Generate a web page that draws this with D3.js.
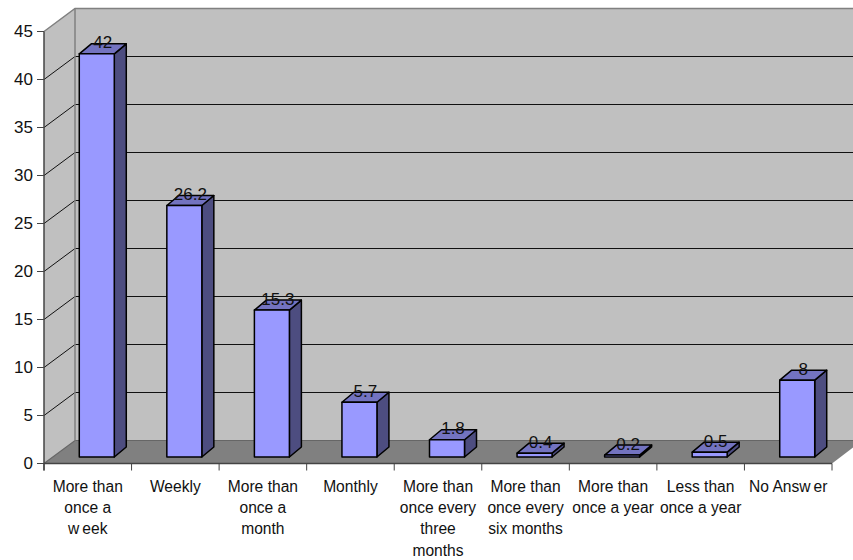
<!DOCTYPE html>
<html>
<head>
<meta charset="utf-8">
<script src="https://cdn.jsdelivr.net/npm/d3@7"></script>
<style>
  html, body { margin: 0; padding: 0; background: #fff; }
  svg { display: block; }
  text { font-family: "Liberation Sans", Arial, sans-serif; fill: #111; }
</style>
</head>
<body>
<svg id="chart" width="853" height="560"></svg>
<script>
const categories = [
  ["More than", "once a", "week"],
  ["Weekly"],
  ["More than", "once a", "month"],
  ["Monthly"],
  ["More than", "once every", "three", "months"],
  ["More than", "once every", "six months"],
  ["More than", "once a year"],
  ["Less than", "once a year"],
  ["No Answer"]
];
const values = [42, 26.2, 15.3, 5.7, 1.8, 0.4, 0.2, 0.5, 8];
const valueLabels = ["42", "26.2", "15.3", "5.7", "1.8", "0.4", "0.2", "0.5", "8"];
const yTicks = [0, 5, 10, 15, 20, 25, 30, 35, 40, 45];

const chartWidth = 853, fontSize = 15.6, numberSize = 17, lineStep = 21.4;
const plotLeft = 44, plotRight = 832, plotTop = 31.5, plotBottom = 463.5;
// Oblique offset of the back wall, and of the bars' front faces and their depth.
const wallDx = 31, wallDy = -23;
const barInsetX = 9, barInsetY = -6.5, barDepthX = 12, barDepthY = -10, barWidth = 35;

const svg = d3.select("#chart");
const x = d3.scaleBand().domain(d3.range(values.length)).range([plotLeft, plotRight]);
const y = d3.scaleLinear().domain([0, 45]).range([plotBottom, plotTop]);
const poly = pts => pts.map(p => p.join(",")).join(" ");

// Walls and floor of the 3D box
svg.append("polygon").attr("fill", "#c0c0c0")
  .attr("points", poly([[plotLeft, y(45)], [plotLeft + wallDx, y(45) + wallDy], [chartWidth, y(45) + wallDy], [chartWidth, y(0) + wallDy], [plotLeft + wallDx, y(0) + wallDy], [plotLeft, y(0)]]));
svg.append("polygon").attr("fill", "#808080")
  .attr("points", poly([[plotLeft, y(0)], [plotLeft + wallDx, y(0) + wallDy], [chartWidth, y(0) + wallDy], [chartWidth, y(0) + wallDy + 7], [plotRight, y(0)]]));

// Gridlines run up the side wall and across the back wall
const grid = svg.append("g").attr("fill", "none");
yTicks.slice(1, -1).forEach(t => {
  grid.append("polyline").attr("stroke", "#111").attr("stroke-width", 1)
    .attr("points", poly([[plotLeft, y(t)], [plotLeft + wallDx, y(t) + wallDy], [chartWidth, y(t) + wallDy]]));
});
grid.append("polyline").attr("stroke", "#666").attr("stroke-width", 1.2)
  .attr("points", poly([[plotLeft, y(0)], [plotLeft + wallDx, y(0) + wallDy], [chartWidth, y(0) + wallDy]]));

// Pale edges of the box
svg.append("polyline").attr("fill", "none").attr("stroke", "#808080").attr("stroke-width", 1.5)
  .attr("points", poly([[plotLeft, y(45)], [plotLeft + wallDx, y(45) + wallDy], [chartWidth, y(45) + wallDy]]));
svg.append("line").attr("stroke", "#808080").attr("stroke-width", 1.5)
  .attr("x1", plotLeft + wallDx).attr("x2", plotLeft + wallDx)
  .attr("y1", y(45) + wallDy).attr("y2", y(0) + wallDy);

// Bars: front, top and side faces
const bars = svg.append("g").selectAll("g").data(values).join("g")
  .attr("stroke", "#000").attr("stroke-width", 1.5).attr("stroke-linejoin", "round");
const fx = (d, i) => x(i) + x.bandwidth() / 2 + barInsetX - barWidth / 2;
const base = y(0) + barInsetY;
const topY = d => y(d) + barInsetY;
bars.append("polygon").attr("fill", "#4d4d80").attr("points", (d, i) => {
  const r = fx(d, i) + barWidth;
  return poly([[r, topY(d)], [r + barDepthX, topY(d) + barDepthY], [r + barDepthX, base + barDepthY], [r, base]]);
});
bars.append("polygon").attr("fill", "#7373c0").attr("points", (d, i) => {
  const l = fx(d, i), r = l + barWidth;
  return poly([[l, topY(d)], [l + barDepthX, topY(d) + barDepthY], [r + barDepthX, topY(d) + barDepthY], [r, topY(d)]]);
});
bars.append("rect").attr("fill", "#9999ff")
  .attr("x", fx).attr("y", topY).attr("width", barWidth).attr("height", d => base - topY(d));

// Value labels sit over the top face of each bar
svg.append("g").selectAll("text").data(values).join("text")
  .attr("text-anchor", "middle").attr("font-size", numberSize)
  .attr("x", (d, i) => fx(d, i) + barWidth / 2 + barDepthX / 2)
  .attr("y", d => topY(d) - 5.5)
  .text((d, i) => valueLabels[i]);

// Axes
const axisColor = "#444";
svg.append("line").attr("stroke", axisColor).attr("stroke-width", 1.5)
  .attr("x1", plotLeft).attr("x2", plotLeft).attr("y1", y(45)).attr("y2", plotBottom + 7);
svg.append("line").attr("stroke", axisColor).attr("stroke-width", 1.5)
  .attr("x1", plotLeft).attr("x2", plotRight).attr("y1", plotBottom).attr("y2", plotBottom);

const yAxis = svg.append("g");
yAxis.selectAll("line").data(yTicks).join("line").attr("stroke", axisColor)
  .attr("x1", plotLeft - 7).attr("x2", plotLeft).attr("y1", d => y(d)).attr("y2", d => y(d));
yAxis.selectAll("text").data(yTicks).join("text")
  .attr("text-anchor", "end").attr("font-size", numberSize)
  .attr("x", 33).attr("y", d => y(d) + 5.5).text(d => d);

const xAxis = svg.append("g");
xAxis.selectAll("line").data(d3.range(values.length + 1)).join("line").attr("stroke", axisColor)
  .attr("x1", i => plotLeft + i * x.step()).attr("x2", i => plotLeft + i * x.step())
  .attr("y1", plotBottom).attr("y2", plotBottom + 7);

// Category labels, one text line per wrapped row; a small gap follows a "w" before "e".
const labels = xAxis.selectAll("text.cat").data(categories).join("text")
  .attr("class", "cat").attr("text-anchor", "middle").attr("font-size", fontSize)
  .attr("y", 491.5);
labels.each(function (rows, i) {
  const cx = x(i) + x.bandwidth() / 2;
  const el = d3.select(this);
  rows.forEach((row, r) => {
    row.split(/(?<=w)(?=e)/).forEach((part, p) => {
      const span = el.append("tspan").text(part);
      if (p === 0) span.attr("x", cx).attr("dy", r === 0 ? 0 : lineStep);
      else span.attr("dx", 3);
    });
  });
});
</script>
</body>
</html>
